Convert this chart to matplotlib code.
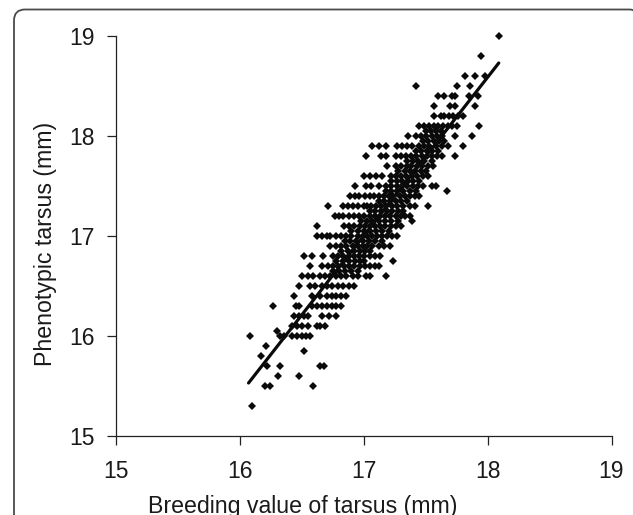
import matplotlib
matplotlib.use("Agg")
import matplotlib.pyplot as plt
from matplotlib.patches import FancyBboxPatch

plt.rcParams['font.family'] = ['Liberation Sans', 'DejaVu Sans']

# phenotypic tarsus is recorded in 0.1 mm steps, so the points sit in rows
row_190 = [18.09]
row_188 = [17.95]
row_186 = [17.82, 17.90, 17.98]
row_185 = [17.42, 17.75, 17.86]
row_184 = [17.60, 17.65, 17.71, 17.74, 17.85, 17.92]
row_183 = [17.57, 17.70, 17.74, 17.90]
row_182 = [17.57, 17.62, 17.65, 17.69, 17.72, 17.76, 17.80]
row_181 = [17.45, 17.49, 17.53, 17.57, 17.60, 17.64, 17.68, 17.71, 17.75, 17.93]
row_180 = [17.36, 17.42, 17.46, 17.50, 17.55, 17.59, 17.63, 17.74, 17.87]
row_179 = [17.07, 17.12, 17.18, 17.27, 17.31, 17.35, 17.39, 17.45, 17.49, 17.53, 17.58, 17.63, 17.68, 17.80]
row_178 = [17.02, 17.14, 17.18, 17.26, 17.30, 17.34, 17.38, 17.42, 17.47, 17.51, 17.55, 17.59, 17.63, 17.74]
row_177 = [17.19, 17.26, 17.30, 17.35, 17.38, 17.43, 17.47, 17.52, 17.56]
row_176 = [17.00, 17.05, 17.10, 17.15, 17.22, 17.26, 17.30, 17.34, 17.39, 17.43, 17.48, 17.52]
row_175 = [16.93, 17.02, 17.06, 17.12, 17.18, 17.22, 17.27, 17.31, 17.35, 17.40, 17.44, 17.48, 17.55, 17.58]
row_1745 = [17.67]
row_174 = [16.89, 16.93, 16.96, 17.01, 17.05, 17.08, 17.12, 17.16, 17.20, 17.24, 17.29, 17.33, 17.37, 17.41, 17.45]
row_173 = [16.71, 16.83, 16.87, 16.91, 16.95, 17.00, 17.03, 17.06, 17.10, 17.14, 17.18, 17.23, 17.27, 17.32, 17.37, 17.41, 17.52]
row_172 = [16.77, 16.80, 16.83, 16.88, 16.92, 16.96, 17.00, 17.05, 17.09, 17.13, 17.17, 17.21, 17.26, 17.30, 17.33, 17.37]
row_1715 = [17.39]
row_171 = [16.62, 16.84, 16.88, 16.92, 16.97, 17.01, 17.05, 17.09, 17.13, 17.17, 17.22, 17.26, 17.30]
row_170 = [16.62, 16.66, 16.70, 16.73, 16.78, 16.82, 16.86, 16.90, 16.95, 16.99, 17.03, 17.07, 17.11, 17.15, 17.19, 17.23, 17.27]
row_169 = [16.73, 16.78, 16.82, 16.86, 16.91, 16.95, 16.99, 17.03, 17.07, 17.12, 17.16, 17.21]
row_168 = [16.52, 16.58, 16.67, 16.75, 16.79, 16.83, 16.88, 16.92, 16.96, 17.00, 17.05, 17.09, 17.13]
row_1675 = [17.24]
row_167 = [16.57, 16.66, 16.71, 16.75, 16.79, 16.84, 16.88, 16.92, 16.97, 17.01, 17.05, 17.09, 17.12]
row_166 = [16.50, 16.55, 16.59, 16.65, 16.69, 16.73, 16.78, 16.82, 16.86, 16.91, 16.95, 17.02, 17.05, 17.18]
row_165 = [16.48, 16.57, 16.61, 16.66, 16.70, 16.74, 16.79, 16.83, 16.88, 16.92]
row_164 = [16.44, 16.58, 16.65, 16.70, 16.74, 16.78, 16.82, 16.86]
row_163 = [16.27, 16.45, 16.48, 16.58, 16.62, 16.66, 16.70, 16.74, 16.78, 16.82]
row_162 = [16.44, 16.48, 16.52, 16.55, 16.66, 16.72, 16.78]
row_161 = [16.42, 16.46, 16.50, 16.55, 16.62, 16.65, 16.69]
row_1605 = [16.30]
row_160 = [16.08, 16.32, 16.36, 16.42, 16.46, 16.50, 16.53, 16.57]
row_159 = [16.21]
row_1585 = [16.52]
row_158 = [16.17]
row_157 = [16.22, 16.32, 16.65, 16.68]
row_156 = [16.31, 16.48]
row_155 = [16.20, 16.24, 16.59]
row_153 = [16.10]

# the black core along the line also holds points between the 0.1 rows
row_1805 = [17.50, 17.54, 17.58, 17.62]
row_1795 = [17.48, 17.52, 17.57, 17.61, 17.65]
row_1785 = [17.42, 17.46, 17.51, 17.55, 17.60]
row_1775 = [17.35, 17.40, 17.44, 17.49, 17.55]
row_1765 = [17.28, 17.33, 17.37, 17.41, 17.46, 17.50]
row_1755 = [17.22, 17.27, 17.31, 17.36, 17.40, 17.45]
row_1745b = [17.18, 17.22, 17.27, 17.32, 17.37, 17.42]
row_1735 = [17.12, 17.16, 17.21, 17.26, 17.30, 17.35]
row_1725 = [17.05, 17.09, 17.14, 17.19, 17.23, 17.28, 17.32]
row_1715b = [16.98, 17.03, 17.07, 17.12, 17.17, 17.22, 17.28]
row_1705 = [16.90, 16.95, 17.00, 17.05, 17.10, 17.15, 17.20]
row_1695 = [16.85, 16.89, 16.94, 16.99, 17.04, 17.09, 17.15]
row_1685 = [16.82, 16.87, 16.92, 16.97, 17.01, 17.05]
row_1675b = [16.78, 16.83, 16.88, 16.93, 16.97, 17.00]
row_1665 = [16.75, 16.80, 16.85, 16.90, 16.95]

pheno_levels = [19.0, 18.8, 18.6, 18.5, 18.4, 18.3, 18.2, 18.1, 18.0, 17.9, 17.8, 17.7, 17.6, 17.5,
                17.45, 17.4, 17.3, 17.2, 17.15, 17.1, 17.0, 16.9, 16.8, 16.75, 16.7, 16.6, 16.5,
                16.4, 16.3, 16.2, 16.1, 16.05, 16.0, 15.9, 15.85, 15.8, 15.7, 15.6, 15.5, 15.3,
                18.05, 17.95, 17.85, 17.75, 17.65, 17.55, 17.45, 17.35, 17.25, 17.15, 17.05, 16.95,
                16.85, 16.75, 16.65]
breeding_rows = [row_190, row_188, row_186, row_185, row_184, row_183, row_182, row_181, row_180, row_179,
                 row_178, row_177, row_176, row_175, row_1745, row_174, row_173, row_172, row_1715, row_171,
                 row_170, row_169, row_168, row_1675, row_167, row_166, row_165, row_164, row_163, row_162,
                 row_161, row_1605, row_160, row_159, row_1585, row_158, row_157, row_156, row_155, row_153,
                 row_1805, row_1795, row_1785, row_1775, row_1765, row_1755, row_1745b, row_1735, row_1725,
                 row_1715b, row_1705, row_1695, row_1685, row_1675b, row_1665]

fit_x = [16.07, 18.09]
fit_y = [15.53, 18.73]

tick_values = [15, 16, 17, 18, 19]

W, H = 633, 515
fig = plt.figure(figsize=(W / 100, H / 100), dpi=100)

# rounded frame runs off the right and bottom of the picture
bg = fig.add_axes([0, 0, 1, 1])
bg.set_xlim(0, W)
bg.set_ylim(H, 0)
bg.axis('off')
bg.add_patch(FancyBboxPatch((14, 9.5), 626, 600, boxstyle="round,pad=0,rounding_size=11",
                            fc='white', ec='#4a4a4a', lw=1.3))

ax = fig.add_axes([116 / W, 1 - 436 / H, 495.5 / W, 400 / H])
ax.patch.set_alpha(0)
for level, xs in zip(pheno_levels, breeding_rows):
    ax.plot(xs, [level] * len(xs), ls='none', marker='D', ms=3.9, mew=0, color='#0a0a0a', clip_on=False)
ax.plot(fit_x, fit_y, color='#0a0a0a', lw=2.3, solid_capstyle='round')

ax.set_xlim(15, 19)
ax.set_ylim(15, 19)
ax.set_xticks(tick_values)
ax.set_yticks(tick_values)
ax.spines['top'].set_visible(False)
ax.spines['right'].set_visible(False)
for side in ['left', 'bottom']:
    ax.spines[side].set_linewidth(0.9)
    ax.spines[side].set_color('#222222')
ax.tick_params(length=6.5, width=0.9, color='#222222', labelsize=16.5, labelcolor='#1a1a1a')
ax.tick_params(axis='x', pad=11)
ax.tick_params(axis='y', pad=9)

fig.text(302.5 / W, 1 - 506.5 / H, 'Breeding value of tarsus (mm)', fontsize=16.7, color='#1a1a1a',
         ha='center', va='center')
fig.text(46 / W, 1 - 244 / H, 'Phenotypic tarsus (mm)', fontsize=16.7, color='#1a1a1a',
         rotation=90, ha='center', va='center')

fig.savefig('out.png', dpi=100)
